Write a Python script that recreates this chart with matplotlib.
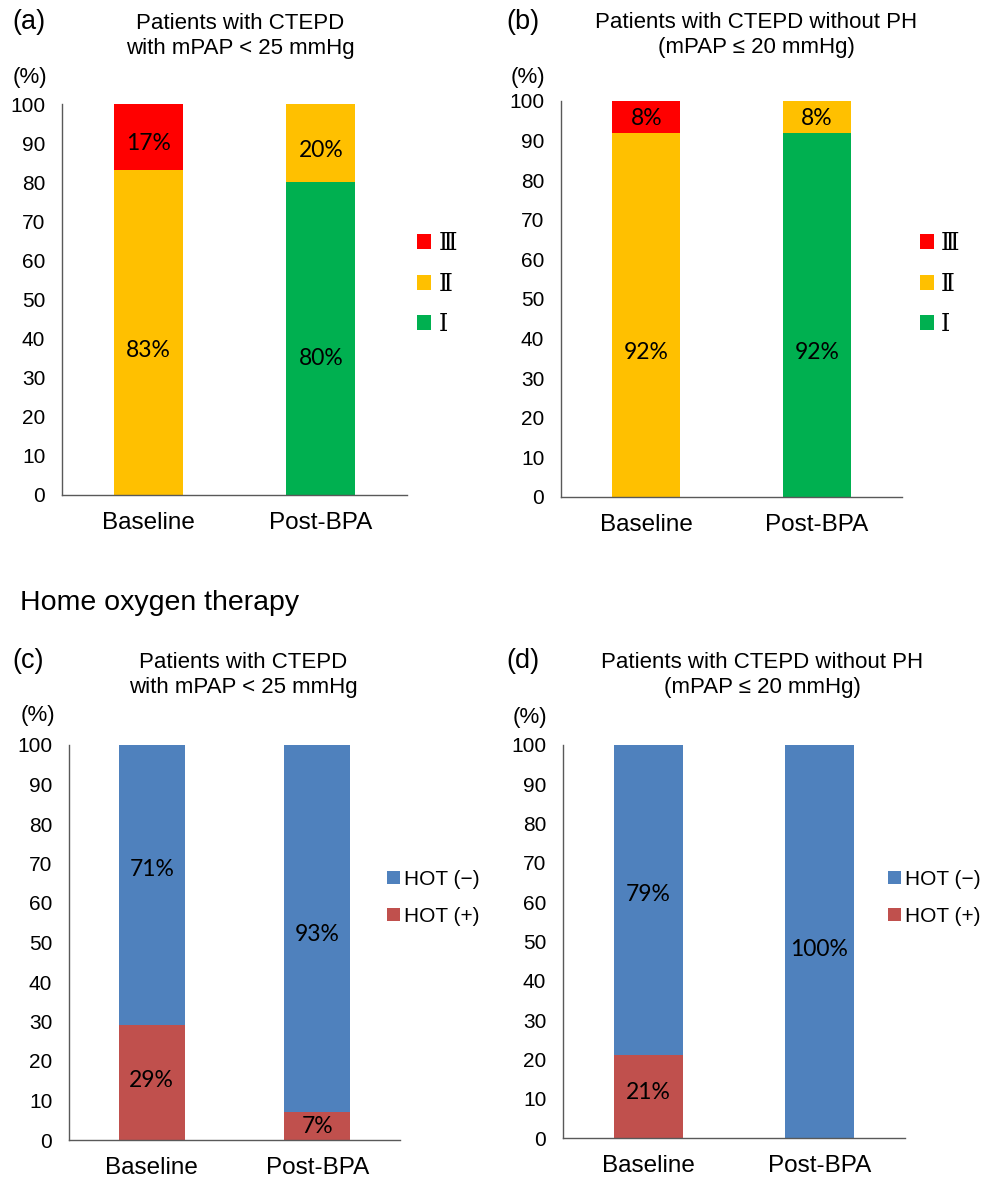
import matplotlib
matplotlib.use("Agg")
import matplotlib.pyplot as plt
from matplotlib.patches import Patch

# WHO functional class, % of patients
groups = ["Baseline", "Post-BPA"]
fc_a_I = [0, 80]
fc_a_II = [83, 20]
fc_a_III = [17, 0]
fc_b_I = [0, 92]
fc_b_II = [92, 8]
fc_b_III = [8, 0]

# home oxygen therapy, % of patients
hot_c_pos = [29, 7]
hot_c_neg = [71, 93]
hot_d_pos = [21, 0]
hot_d_neg = [79, 100]

# heights (axis units) where the % labels sit, same order as the series
lab_a = [[None, 35], [37, 88], [90, None]]
lab_b = [[None, 36.5], [36.5, 95.5], [95.5, None]]
lab_c = [[15, 3.5], [68.5, 52]]
lab_d = [[11.5, None], [62, 48]]

fc_labels = ["\u2162", "\u2161", "\u2160"]  # III, II, I
hot_labels = ["HOT (\u2212)", "HOT (+)"]

RED = "#FF0000"
YELLOW = "#FFC000"
GREEN = "#00B050"
BLUE = "#4F81BD"
BRICK = "#C0504D"

SANS = "Liberation Sans"
PCT_FONT = ["Lato", "DejaVu Sans"]
ROMAN_FONT = ["DejaVu Serif", "Noto Sans CJK JP"]

W, H = 981, 1178
fig = plt.figure(figsize=(W / 100, H / 100), dpi=100)


def fx(px):
    return px / W


def fy(py):
    return 1 - py / H


def make_axes(left, right, top, bottom):
    ax = fig.add_axes([fx(left), fy(bottom), fx(right - left), fy(top) - fy(bottom)])
    ax.set_xlim(-0.5, 1.5)
    ax.set_ylim(0, 100)
    ax.set_yticks(range(0, 101, 10))
    ax.set_xticks([0, 1])
    ax.set_xticklabels(groups, fontsize=17.5, fontfamily=SANS)
    for lab in ax.get_yticklabels():
        lab.set_fontsize(15)
        lab.set_fontfamily(SANS)
    ax.tick_params(axis="y", length=0, pad=12)
    ax.tick_params(axis="x", length=0, pad=12)
    for s in ["top", "right"]:
        ax.spines[s].set_visible(False)
    for s in ["left", "bottom"]:
        ax.spines[s].set_color("#595959")
        ax.spines[s].set_linewidth(1.0)
    return ax


def stack(ax, series, colors, label_y):
    bottoms = [0, 0]
    for vals, col, ly in zip(series, colors, label_y):
        ax.bar([0, 1], vals, width=0.4, bottom=bottoms, color=col, zorder=2)
        for i, v in enumerate(vals):
            if v > 0:
                y = ly[i] if ly[i] is not None else bottoms[i] + v / 2
                ax.text(i, y, f"{v}%", ha="center", va="center",
                        fontsize=16.5, fontfamily=PCT_FONT, color="black", zorder=3)
        bottoms = [b + v for b, v in zip(bottoms, vals)]


def legend(ax, labels, colors, x, y, spacing, font, pad):
    handles = [Patch(facecolor=c, edgecolor="none") for c in colors]
    ax.legend(handles, labels, loc="center left", bbox_to_anchor=(fx(x), fy(y)),
              bbox_transform=fig.transFigure, frameon=False, handlelength=0.6,
              handleheight=0.6, handletextpad=pad, labelspacing=spacing,
              prop=font, borderpad=0, borderaxespad=0)


# (a)
ax_a = make_axes(62, 407, 104, 495)
stack(ax_a, [fc_a_I, fc_a_II, fc_a_III], [GREEN, YELLOW, RED], lab_a)
legend(ax_a, fc_labels, [RED, YELLOW, GREEN], 417, 284, 0.75,
       {"family": ROMAN_FONT, "size": 17}, 0.3)

# (b)
ax_b = make_axes(561, 902, 101, 497)
stack(ax_b, [fc_b_I, fc_b_II, fc_b_III], [GREEN, YELLOW, RED], lab_b)
legend(ax_b, fc_labels, [RED, YELLOW, GREEN], 920, 284, 0.75,
       {"family": ROMAN_FONT, "size": 17}, 0.3)

# (c)
ax_c = make_axes(69, 400, 745, 1140)
stack(ax_c, [hot_c_pos, hot_c_neg], [BRICK, BLUE], lab_c)
legend(ax_c, hot_labels, [BLUE, BRICK], 387, 898, 0.85,
       {"family": SANS, "size": 15}, 0.2)

# (d)
ax_d = make_axes(563, 905, 745, 1138)
stack(ax_d, [hot_d_pos, hot_d_neg], [BRICK, BLUE], lab_d)
legend(ax_d, hot_labels, [BLUE, BRICK], 888, 898, 0.85,
       {"family": SANS, "size": 15}, 0.2)

# panel letters, titles and unit labels
for letter, x, y in [("(a)", 12, 22), ("(b)", 506, 22), ("(c)", 12, 661), ("(d)", 506, 661)]:
    fig.text(fx(x), fy(y), letter, ha="left", va="center", fontsize=19.5, fontfamily=SANS)

titles = [
    ("Patients with CTEPD\nwith mPAP < 25 mmHg", 240, 36),
    ("Patients with CTEPD without PH\n(mPAP \u2264 20 mmHg)", 756, 35),
    ("Patients with CTEPD\nwith mPAP < 25 mmHg", 243, 675),
    ("Patients with CTEPD without PH\n(mPAP \u2264 20 mmHg)", 762, 675),
]
for txt, x, y in titles:
    fig.text(fx(x), fy(y), txt, ha="center", va="center", fontsize=16,
             fontfamily=SANS, linespacing=1.3)

for x, y in [(13, 77), (511, 78), (21, 715), (513, 717)]:
    fig.text(fx(x), fy(y), "(%)", ha="left", va="center", fontsize=16, fontfamily=SANS)

fig.text(fx(20), fy(603), "Home oxygen therapy", ha="left", va="center",
         fontsize=20.5, fontfamily=SANS)

fig.savefig("out.png", dpi=100, facecolor="white")
